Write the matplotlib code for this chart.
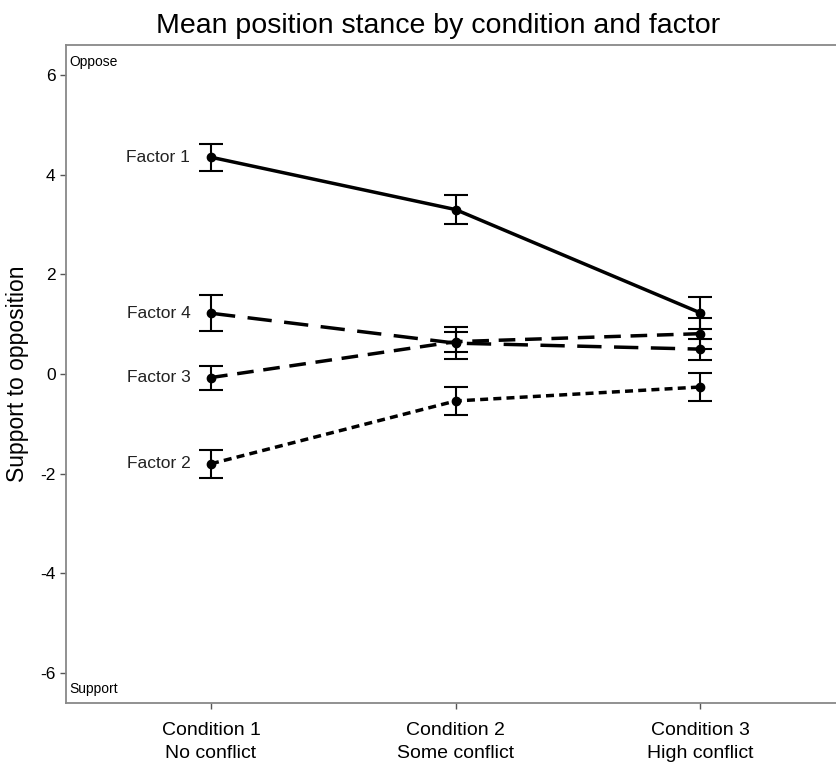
import matplotlib
matplotlib.use("Agg")
import matplotlib.pyplot as plt

plt.rcParams["font.family"] = ["Liberation Sans", "DejaVu Sans"]
plt.rcParams["axes.unicode_minus"] = False

conditions = [1, 2, 3]
cond_labels = ["Condition 1\nNo conflict", "Condition 2\nSome conflict", "Condition 3\nHigh conflict"]
factors = ["Factor 1", "Factor 2", "Factor 3", "Factor 4"]

means = {
    "Factor 1": [4.35, 3.30, 1.23],
    "Factor 2": [-1.80, -0.54, -0.26],
    "Factor 3": [-0.07, 0.65, 0.81],
    "Factor 4": [1.22, 0.62, 0.50],
}
errors = {
    "Factor 1": [0.275, 0.285, 0.32],
    "Factor 2": [0.28, 0.28, 0.29],
    "Factor 3": [0.24, 0.20, 0.31],
    "Factor 4": [0.36, 0.32, 0.21],
}
styles = {
    "Factor 1": "-",
    "Factor 2": (0, (2.3, 1.5)),
    "Factor 3": (0, (4.8, 2.8)),
    "Factor 4": (0, (7.0, 3.6)),
}

fig = plt.figure(figsize=(8.37, 7.64), dpi=100)
ax = fig.add_axes([0.0789, 0.0798, 0.9211, 0.8612])

for f in factors:
    ax.errorbar(conditions, means[f], yerr=errors[f], fmt="none",
                ecolor="black", elinewidth=1.5, capsize=8.5, capthick=1.5, zorder=2)
    ax.plot(conditions, means[f], color="black", linestyle=styles[f],
            linewidth=2.5, zorder=3)
    ax.plot(conditions, means[f], "o", color="black", markersize=6, zorder=4)
    ax.text(0.915, means[f][0], f, ha="right", va="center", fontsize=12.5,
            color="#222222")

ax.text(0.42, 6.26, "Oppose", ha="left", va="center", fontsize=10)
ax.text(0.42, -6.32, "Support", ha="left", va="center", fontsize=10)

ax.set_xlim(0.407, 3.56)
ax.set_ylim(-6.6, 6.6)
ax.set_yticks([-6, -4, -2, 0, 2, 4, 6])
ax.set_xticks(conditions)
ax.set_xticklabels(cond_labels, fontsize=14, linespacing=1.4)
ax.tick_params(axis="y", labelsize=12.5, color="#555555", length=4, width=1)
ax.tick_params(axis="x", color="#555555", length=4, width=1, pad=10)
ax.set_ylabel("Support to opposition", fontsize=16.5, labelpad=8)
ax.set_title("Mean position stance by condition and factor", fontsize=20.5,
             pad=9, x=0.483)

for side in ["left", "bottom", "top"]:
    ax.spines[side].set_color("#888888")
    ax.spines[side].set_linewidth(1.3)
ax.spines["right"].set_visible(False)

fig.savefig("out.png", dpi=100)
plt.close()
